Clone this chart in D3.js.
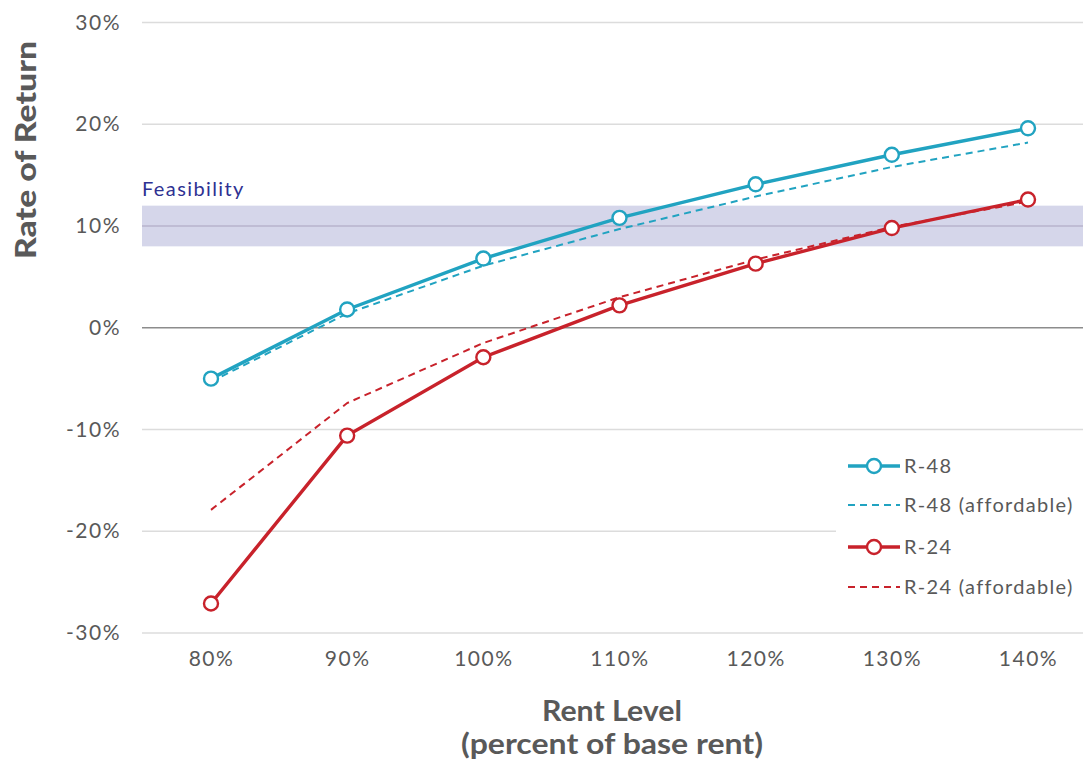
<!DOCTYPE html>
<html>
<head>
<meta charset="utf-8">
<script src="https://cdn.jsdelivr.net/npm/d3@7"></script>
<style>
  html, body { margin: 0; padding: 0; background: #fff; }
  svg { display: block; }
  text { font-family: Lato, "Open Sans", sans-serif; }
</style>
</head>
<body>
<svg id="chart" width="1083" height="763"></svg>
<script>
// Rent level categories (percent of base rent)
const rentLevels = ["80%", "90%", "100%", "110%", "120%", "130%", "140%"];

// Rate of return, in percent
const r48 = [-5.0, 1.8, 6.8, 10.8, 14.1, 17.0, 19.6];
const r48Affordable = [-5.3, 1.4, 6.1, 9.7, 12.9, 15.8, 18.2];
const r24 = [-27.1, -10.6, -2.9, 2.2, 6.3, 9.8, 12.6];
const r24Affordable = [-17.9, -7.4, -1.5, 3.0, 6.7, 9.9, 12.4];

const yTicks = [-30, -20, -10, 0, 10, 20, 30];
const yTickLabels = ["-30%", "-20%", "-10%", "0%", "10%", "20%", "30%"];

// Feasibility range of returns
const feasibilityRange = [8, 12];
const feasibilityTarget = 10;

const series = [
  { name: "R-48", values: r48, color: "#21a3c1", dashed: false },
  { name: "R-48 (affordable)", values: r48Affordable, color: "#21a3c1", dashed: true },
  { name: "R-24", values: r24, color: "#c8222b", dashed: false },
  { name: "R-24 (affordable)", values: r24Affordable, color: "#c8222b", dashed: true }
];

const svg = d3.select("#chart");
const plotLeft = 142, plotRight = 1083;

const x = d3.scalePoint()
  .domain(rentLevels)
  .range([211, 1028]);

const y = d3.scaleLinear()
  .domain([-30, 30])
  .range([633, 22.5]);

// Horizontal gridlines
svg.append("g")
  .selectAll("line")
  .data(yTicks)
  .join("line")
  .attr("x1", plotLeft)
  .attr("x2", plotRight)
  .attr("y1", d => y(d))
  .attr("y2", d => y(d))
  .attr("stroke", d => d === 0 ? "#8c8c8c" : "#dcdcdc")
  .attr("stroke-width", 1.3);

// Feasibility band
svg.append("rect")
  .attr("x", plotLeft)
  .attr("width", plotRight - plotLeft)
  .attr("y", y(feasibilityRange[1]))
  .attr("height", y(feasibilityRange[0]) - y(feasibilityRange[1]))
  .attr("fill", "#d5d6ea");

svg.append("line")
  .attr("x1", plotLeft)
  .attr("x2", plotRight)
  .attr("y1", y(feasibilityTarget))
  .attr("y2", y(feasibilityTarget))
  .attr("stroke", "#b7b3cc")
  .attr("stroke-width", 1.5);

svg.append("text")
  .attr("x", plotLeft)
  .attr("y", y(feasibilityRange[1]) - 10)
  .attr("fill", "#2e3192")
  .attr("font-size", 20)
  .attr("letter-spacing", 1.4)
  .text("Feasibility");

// Y axis tick labels
const yAxis = d3.axisLeft(y)
  .tickValues(yTicks)
  .tickFormat((d, i) => yTickLabels[i])
  .tickSize(0)
  .tickPadding(0);

svg.append("g")
  .attr("transform", "translate(121,0)")
  .call(yAxis)
  .call(g => g.select(".domain").remove())
  .call(g => g.selectAll("text")
    .attr("fill", "#595959")
    .attr("font-size", 21)
    .attr("letter-spacing", 1.5)
    .attr("font-family", "Lato, sans-serif"));

// X axis tick labels
const xAxis = d3.axisBottom(x).tickSize(0).tickPadding(0);
svg.append("g")
  .attr("transform", "translate(0,651)")
  .call(xAxis)
  .call(g => g.select(".domain").remove())
  .call(g => g.selectAll("text")
    .attr("fill", "#595959")
    .attr("font-size", 21)
    .attr("letter-spacing", 1.5)
    .attr("font-family", "Lato, sans-serif"));

// Axis titles
svg.append("text")
  .attr("transform", "translate(36,150) rotate(-90)")
  .attr("text-anchor", "middle")
  .attr("fill", "#595959")
  .attr("font-size", 29)
  .attr("font-weight", "900")
  .attr("textLength", 218)
  .attr("lengthAdjust", "spacingAndGlyphs")
  .text("Rate of Return");

svg.append("text")
  .attr("x", 612)
  .attr("y", 721)
  .attr("text-anchor", "middle")
  .attr("fill", "#595959")
  .attr("font-size", 28)
  .attr("font-weight", "bold")
  .attr("font-family", "'Liberation Sans Narrow', 'DejaVu Sans Condensed', sans-serif")
  .attr("textLength", 140)
  .attr("lengthAdjust", "spacingAndGlyphs")
  .text("Rent Level");

svg.append("text")
  .attr("x", 612)
  .attr("y", 754)
  .attr("text-anchor", "middle")
  .attr("fill", "#595959")
  .attr("font-size", 28)
  .attr("font-weight", "bold")
  .attr("font-family", "'Liberation Sans Narrow', 'DejaVu Sans Condensed', sans-serif")
  .attr("textLength", 302)
  .attr("lengthAdjust", "spacingAndGlyphs")
  .text("(percent of base rent)");

// Series lines
const line = d3.line()
  .x((d, i) => x(rentLevels[i]))
  .y(d => y(d));

const drawOrder = [series[1], series[3], series[2], series[0]];
drawOrder.forEach(s => {
  svg.append("path")
    .datum(s.values)
    .attr("fill", "none")
    .attr("stroke", s.color)
    .attr("stroke-width", s.dashed ? 2 : 3.4)
    .attr("stroke-dasharray", s.dashed ? "7,5" : null)
    .attr("d", line);
});

// Markers on the solid series
[series[2], series[0]].forEach(s => {
  svg.append("g")
    .selectAll("circle")
    .data(s.values)
    .join("circle")
    .attr("cx", (d, i) => x(rentLevels[i]))
    .attr("cy", d => y(d))
    .attr("r", 7)
    .attr("fill", "#fff")
    .attr("stroke", s.color)
    .attr("stroke-width", 2.4);
});

// Legend
const legend = svg.append("g");
legend.append("rect")
  .attr("x", 836)
  .attr("y", 442)
  .attr("width", plotRight - 836)
  .attr("height", 168)
  .attr("fill", "#fff");

const legendRows = [466, 505, 547, 587];
series.forEach((s, i) => {
  const gy = legendRows[i];
  const row = legend.append("g").attr("transform", `translate(0,${gy})`);
  row.append("line")
    .attr("x1", 848)
    .attr("x2", 900)
    .attr("y1", 0)
    .attr("y2", 0)
    .attr("stroke", s.color)
    .attr("stroke-width", s.dashed ? 2 : 3.4)
    .attr("stroke-dasharray", s.dashed ? "7,5" : null);
  if (!s.dashed) {
    row.append("circle")
      .attr("cx", 874)
      .attr("cy", 0)
      .attr("r", 7)
      .attr("fill", "#fff")
      .attr("stroke", s.color)
      .attr("stroke-width", 2.4);
  }
  row.append("text")
    .attr("x", 904)
    .attr("y", 0)
    .attr("dy", "0.35em")
    .attr("fill", "#595959")
    .attr("font-size", 20)
    .attr("letter-spacing", 1.3)
    .text(s.name);
});
</script>
</body>
</html>
